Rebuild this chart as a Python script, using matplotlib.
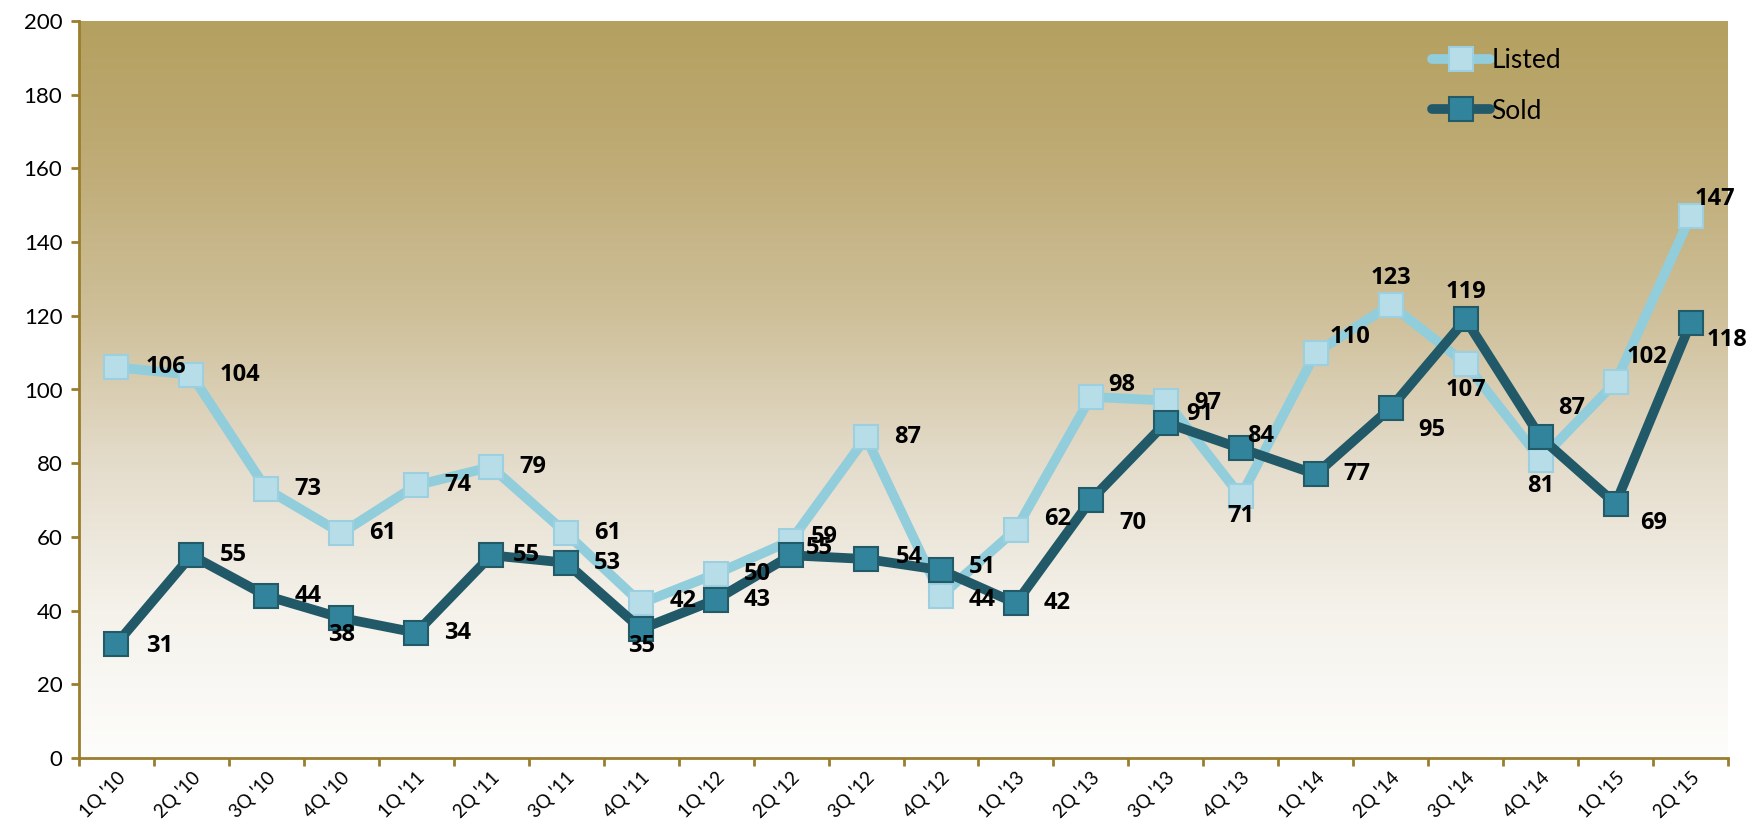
import numpy as np
import matplotlib.pyplot as plt
from matplotlib.colors import LinearSegmentedColormap

quarters = ["1Q '10", "2Q '10", "3Q '10", "4Q '10",
            "1Q '11", "2Q '11", "3Q '11", "4Q '11",
            "1Q '12", "2Q '12", "3Q '12", "4Q '12",
            "1Q '13", "2Q '13", "3Q '13", "4Q '13",
            "1Q '14", "2Q '14", "3Q '14", "4Q '14",
            "1Q '15", "2Q '15"]
listed = [106, 104, 73, 61, 74, 79, 61, 42, 50, 59, 87, 44,
          62, 98, 97, 71, 110, 123, 107, 81, 102, 147]
sold = [31, 55, 44, 38, 34, 55, 53, 35, 43, 55, 54, 51,
        42, 70, 91, 84, 77, 95, 119, 87, 69, 118]

# label offsets in pixels (dx, dy); dx == 0 means centred
listed_off = [(29, 0), (28, 0), (28, 0), (28, 0), (28, 0), (28, 0), (28, 0), (28, 2), (28, 0),
              (20, 4), (28, 0), (28, -4), (28, 11), (17, 12), (28, -2), (0, -20),
              (14, 16), (0, 27), (0, -26), (0, -26), (11, 25), (4, 17)]
sold_off = [(30, -2), (28, 0), (28, 0), (0, -17), (28, 0), (22, 0), (28, 0), (0, -17), (28, 0),
            (15, 7), (30, 2), (28, 3), (28, 0), (28, -23), (20, 9), (6, 12),
            (28, 0), (28, -22), (0, 27), (18, 29), (25, -19), (16, -17)]

plt.rcParams['font.family'] = ['Lato', 'DejaVu Sans']

fig = plt.figure(figsize=(17.58, 8.30), dpi=100)
ax = fig.add_axes([79 / 1758, 72 / 830, (1728 - 79) / 1758, 737 / 830])

x = np.arange(len(quarters))
ax.set_xlim(-0.5, len(quarters) - 0.5)
ax.set_ylim(0, 200)

# gradient background
cmap = LinearSegmentedColormap.from_list("bg", [
    (0.0, "#fdfdfb"), (0.2, "#f5f2eb"), (0.4, "#e4dccb"),
    (0.6, "#cfc09a"), (0.8, "#bfac77"), (1.0, "#b4a05f")])
grad = np.linspace(0, 1, 256).reshape(-1, 1)
ax.imshow(grad, cmap=cmap, aspect='auto', origin='lower',
          extent=[-0.5, len(quarters) - 0.5, 0, 200], zorder=0)

ax.plot(x, listed, color="#92cddc", lw=7, marker='s', ms=17,
        mfc="#b7dee8", mec="#9ccfe0", mew=1.5, label="Listed", zorder=3,
        solid_joinstyle='round', solid_capstyle='round')
ax.plot(x, sold, color="#215968", lw=7, marker='s', ms=17,
        mfc="#31849b", mec="#235a68", mew=1.5, label="Sold", zorder=4,
        solid_joinstyle='round', solid_capstyle='round')

for vals, offs in ((listed, listed_off), (sold, sold_off)):
    for i, (v, (dx, dy)) in enumerate(zip(vals, offs)):
        ax.annotate(str(v), (x[i], v), xytext=(dx, dy), textcoords='offset pixels',
                    ha='center' if dx == 0 else 'left', va='center',
                    fontsize=17, fontweight='bold', color='black', zorder=6,
                    family=['Open Sans', 'DejaVu Sans'])

axis_col = "#9a7d2e"
for s in ['top', 'right']:
    ax.spines[s].set_visible(False)
for s in ['left', 'bottom']:
    ax.spines[s].set_color(axis_col)
    ax.spines[s].set_linewidth(2)

ax.set_yticks(range(0, 201, 20))
ax.set_xticks(np.arange(-0.5, len(quarters), 1.0))
ax.set_xticklabels([])
ax.set_xticks(x, minor=True)
ax.set_xticklabels(quarters, minor=True, rotation=45, ha='right', va='top',
                   rotation_mode='anchor', fontsize=13.5)
ax.tick_params(axis='x', which='minor', length=0, pad=8)
ax.tick_params(axis='x', which='major', length=6, width=2, color=axis_col, direction='out')
ax.tick_params(axis='y', length=6, width=2, color=axis_col, labelsize=16, pad=6)

leg = ax.legend(loc='upper left', bbox_to_anchor=(0.806, 0.995), frameon=False,
                fontsize=19, handlelength=2.2, handletextpad=0.05, labelspacing=0.95)

fig.savefig("out.png", dpi=100)
